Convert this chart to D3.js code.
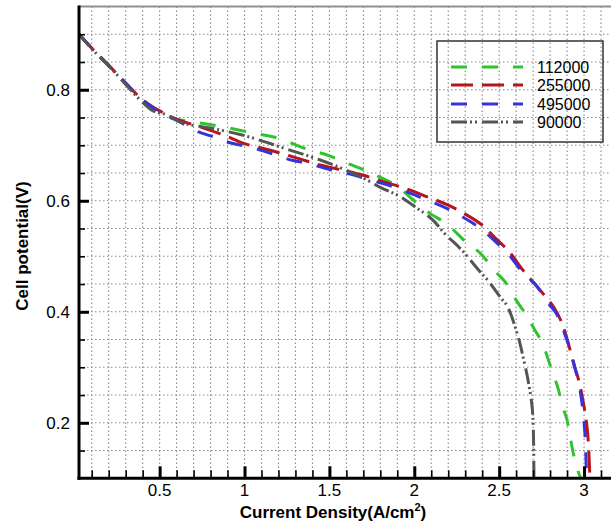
<!DOCTYPE html>
<html>
<head>
<meta charset="utf-8">
<script src="https://cdn.jsdelivr.net/npm/d3@7"></script>
<style>
  body { margin: 0; background: #fff; }
  text { font-family: "Liberation Sans", Arial, sans-serif; }
</style>
</head>
<body>
<svg id="chart" width="611" height="525"></svg>
<script>
// [current density (A/cm2), cell potential (V)]
var s112000 = [[0.025,0.900],[0.10,0.874],[0.20,0.843],[0.30,0.810],[0.40,0.779],[0.47,0.762],[0.55,0.751],[0.70,0.742],[0.88,0.733],[1.05,0.722],[1.20,0.713],[1.35,0.695],[1.50,0.681],[1.60,0.668],[1.70,0.656],[1.80,0.642],[1.90,0.626],[2.00,0.600],[2.08,0.580],[2.20,0.556],[2.30,0.527],[2.40,0.502],[2.47,0.475],[2.54,0.452],[2.60,0.421],[2.66,0.394],[2.71,0.367],[2.76,0.340],[2.79,0.313],[2.82,0.286],[2.85,0.259],[2.87,0.232],[2.90,0.205],[2.915,0.181],[2.93,0.155],[2.95,0.128],[2.98,0.100]];
var s255000 = [[0.025,0.900],[0.10,0.875],[0.20,0.844],[0.30,0.812],[0.40,0.782],[0.50,0.762],[0.60,0.747],[0.74,0.733],[0.88,0.718],[1.00,0.703],[1.10,0.695],[1.21,0.686],[1.33,0.675],[1.45,0.664],[1.58,0.655],[1.70,0.646],[1.82,0.634],[1.94,0.623],[2.06,0.609],[2.20,0.592],[2.30,0.576],[2.40,0.556],[2.49,0.529],[2.56,0.508],[2.64,0.475],[2.69,0.457],[2.79,0.421],[2.82,0.409],[2.88,0.371],[2.91,0.340],[2.94,0.305],[2.97,0.275],[2.99,0.246],[3.01,0.210],[3.02,0.185],[3.028,0.150],[3.032,0.120],[3.035,0.100]];
var s495000 = [[0.025,0.900],[0.10,0.875],[0.20,0.844],[0.30,0.812],[0.40,0.782],[0.50,0.760],[0.60,0.745],[0.73,0.724],[0.82,0.715],[0.92,0.704],[1.00,0.699],[1.11,0.690],[1.19,0.682],[1.28,0.673],[1.36,0.668],[1.47,0.659],[1.55,0.653],[1.66,0.645],[1.73,0.638],[1.85,0.628],[1.95,0.617],[2.06,0.603],[2.20,0.585],[2.30,0.568],[2.40,0.548],[2.48,0.526],[2.56,0.502],[2.64,0.470],[2.72,0.447],[2.79,0.415],[2.84,0.395],[2.88,0.365],[2.92,0.330],[2.95,0.295],[2.975,0.262],[2.99,0.230],[3.00,0.200],[3.008,0.165],[3.012,0.130],[3.015,0.100]];
var s90000 = [[0.025,0.900],[0.10,0.874],[0.20,0.843],[0.30,0.810],[0.39,0.780],[0.45,0.764],[0.55,0.754],[0.62,0.742],[0.80,0.731],[0.98,0.719],[1.25,0.693],[1.45,0.673],[1.60,0.655],[1.70,0.641],[1.80,0.624],[1.92,0.607],[2.00,0.590],[2.12,0.562],[2.17,0.544],[2.28,0.511],[2.38,0.475],[2.44,0.454],[2.51,0.425],[2.55,0.409],[2.60,0.367],[2.625,0.340],[2.645,0.313],[2.665,0.285],[2.68,0.259],[2.69,0.240],[2.70,0.200],[2.703,0.160],[2.705,0.100]];

var seriesNames = ["112000", "255000", "495000", "90000"];
var seriesData = [s112000, s255000, s495000, s90000];
var seriesColors = ["#2fc42f", "#b8141c", "#3434d8", "#555555"];
var seriesDash = ["16,15", "22,9", "16,15", "16,3,2,3,2,5"];

var xTickLabels = [0.5, 1, 1.5, 2, 2.5, 3];
var yTickLabels = [0.2, 0.4, 0.6, 0.8];

var plot = {left: 79, top: 6.5, right: 618, bottom: 478.3};

var svg = d3.select("#chart");

var x = d3.scaleLinear().domain([0.025, 3.2]).range([plot.left, plot.right]);
var y = d3.scaleLinear().domain([0.1, 0.95]).range([plot.bottom, plot.top]);

svg.append("clipPath").attr("id", "clip")
  .append("rect")
    .attr("x", plot.left).attr("y", plot.top)
    .attr("width", plot.right - plot.left).attr("height", plot.bottom - plot.top);

// dotted grid
var xGrid = d3.range(1, 32).map(function(i){ return i / 10; });
var yGrid = d3.range(3, 19).map(function(i){ return i / 20; });

var grid = svg.append("g").attr("class", "grid")
  .attr("stroke", "#8a8a8a").attr("stroke-width", 1.1).attr("stroke-dasharray", "1.5,2.5");
grid.selectAll(".vx").data(xGrid).enter().append("line")
  .attr("x1", function(d){ return x(d); }).attr("x2", function(d){ return x(d); })
  .attr("y1", plot.top).attr("y2", plot.bottom);
grid.selectAll(".hy").data(yGrid).enter().append("line")
  .attr("x1", plot.left).attr("x2", plot.right)
  .attr("y1", function(d){ return y(d); }).attr("y2", function(d){ return y(d); });

// top frame
svg.append("line")
  .attr("x1", plot.left).attr("x2", plot.right)
  .attr("y1", plot.top).attr("y2", plot.top)
  .attr("stroke", "#8f8f8f").attr("stroke-width", 2);

// curves
var line = d3.line()
  .x(function(d){ return x(d[0]); })
  .y(function(d){ return y(d[1]); })
  .curve(d3.curveMonotoneX);

svg.append("g").attr("clip-path", "url(#clip)")
  .selectAll("path").data(seriesData).enter().append("path")
    .attr("d", line)
    .attr("fill", "none")
    .attr("stroke", function(d, i){ return seriesColors[i]; })
    .attr("stroke-width", 3)
    .attr("stroke-dasharray", function(d, i){ return seriesDash[i]; });

// x axis, ticks pointing inward
var xAxis = d3.axisTop(x).tickValues(xTickLabels).tickSize(12).tickFormat("");
var xMinor = d3.axisTop(x).tickValues(xGrid.filter(function(v){ return Math.round(v * 10) % 5 != 0; })).tickSize(8).tickFormat("");
var gx = svg.append("g").attr("transform", "translate(0," + plot.bottom + ")");
gx.append("g").call(xMinor).call(function(g){ g.selectAll("line").attr("stroke-width", 1.6); });
gx.append("g").call(xAxis).call(function(g){ g.selectAll("line").attr("stroke-width", 3); });
gx.selectAll(".domain").remove();
gx.append("line").attr("x1", plot.left - 1.5).attr("x2", 611).attr("stroke", "#000").attr("stroke-width", 3);
gx.selectAll(".lbl").data(xTickLabels).enter().append("text")
  .attr("x", function(d){ return x(d); })
  .attr("y", 18)
  .attr("text-anchor", "middle")
  .attr("font-size", "17px")
  .text(function(d){ return d; });

// y axis
var yAxis = d3.axisRight(y).tickValues(yTickLabels).tickSize(10).tickFormat("");
var yMinor = d3.axisRight(y).tickValues(yGrid.filter(function(v){ return Math.round(v * 20) % 4 != 0; })).tickSize(6).tickFormat("");
var gy = svg.append("g").attr("transform", "translate(" + plot.left + ",0)");
gy.append("g").call(yMinor).call(function(g){ g.selectAll("line").attr("stroke-width", 1.6); });
gy.append("g").call(yAxis).call(function(g){ g.selectAll("line").attr("stroke-width", 3); });
gy.selectAll(".domain").remove();
gy.append("line").attr("y1", plot.top - 1).attr("y2", plot.bottom + 1.5).attr("stroke", "#000").attr("stroke-width", 3);
gy.selectAll(".lbl").data(yTickLabels).enter().append("text")
  .attr("x", -9)
  .attr("y", function(d){ return y(d); })
  .attr("dy", "0.36em")
  .attr("text-anchor", "end")
  .attr("font-size", "17px")
  .text(function(d){ return d; });

// axis titles
var xt = svg.append("text")
  .attr("x", 333).attr("y", 518)
  .attr("text-anchor", "middle")
  .attr("font-size", "17px").attr("font-weight", "bold");
xt.append("tspan").text("Current Density(A/cm");
xt.append("tspan").attr("font-size", "11px").attr("dy", "-7").text("2");
xt.append("tspan").attr("dy", "7").text(")");

svg.append("text")
  .attr("transform", "translate(28,246) rotate(-90)")
  .attr("text-anchor", "middle")
  .attr("font-size", "17px").attr("font-weight", "bold")
  .text("Cell potential(V)");

// legend
var legend = svg.append("g").attr("transform", "translate(437,41)");
legend.append("rect")
  .attr("width", 166).attr("height", 101)
  .attr("fill", "none").attr("stroke", "#333").attr("stroke-width", 1.5);
var rows = legend.selectAll(".row").data(seriesNames).enter().append("g")
  .attr("transform", function(d, i){ return "translate(0," + [26, 44, 63, 81][i] + ")"; });
rows.append("line")
  .attr("x1", 14).attr("x2", 86)
  .attr("stroke", function(d, i){ return seriesColors[i]; })
  .attr("stroke-width", 3)
  .attr("stroke-dasharray", function(d, i){ return seriesDash[i]; });
rows.append("text")
  .attr("x", 100).attr("dy", "0.36em")
  .attr("font-size", "16px")
  .text(function(d){ return d; });
</script>
</body>
</html>
